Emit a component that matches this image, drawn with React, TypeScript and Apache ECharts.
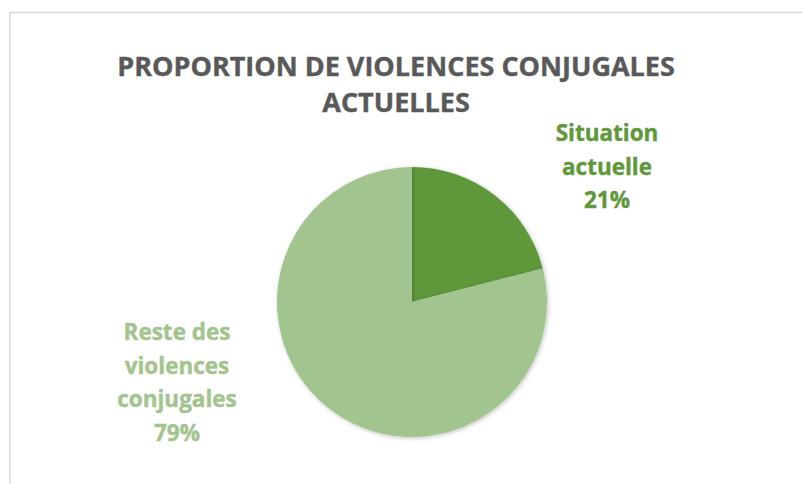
import React, { useEffect, useRef } from "react";
import * as echarts from "echarts";

const titleLines = ["PROPORTION DE VIOLENCES CONJUGALES", "ACTUELLES"];
const categories = ["Situation actuelle", "Reste des violences conjugales"];
const labelLines = [["Situation", "actuelle"], ["Reste des", "violences", "conjugales"]];
const values = [21, 79];
const colors = ["#5f983b", "#a2c48e"];
const labelPos = [
  { x: 607, y: 166 },
  { x: 177, y: 382 },
];

export default function App() {
  const ref = useRef<HTMLDivElement>(null);
  useEffect(() => {
    if (!ref.current) return;
    const chart = echarts.init(ref.current, undefined, { renderer: "svg" });
    const total = values.reduce((a, b) => a + b, 0);
    chart.setOption({
      animation: false,
      backgroundColor: "#ffffff",
      graphic: [
        { type: "line", shape: { x1: 10, y1: 12.5, x2: 802, y2: 12.5 }, style: { stroke: "#d9d9d9", lineWidth: 1.5 } },
        { type: "line", shape: { x1: 10, y1: 12, x2: 10, y2: 484 }, style: { stroke: "#d9d9d9", lineWidth: 1.5 } },
      ],
      title: {
        text: titleLines.join("\n"),
        left: 391,
        top: 42,
        textAlign: "center",
        textStyle: {
          fontFamily: "Open Sans",
          fontWeight: "bold",
          fontSize: 27,
          color: "#595959",
          lineHeight: 36,
          textBorderColor: "#595959",
          textBorderWidth: 0.4,
        },
      },
      series: [
        {
          type: "pie",
          center: [412, 302],
          radius: [0, 135],
          startAngle: 90,
          clockwise: true,
          data: values.map((v, i) => ({
            name: categories[i],
            value: v,
            itemStyle: {
              color: colors[i],
              shadowBlur: 4,
              shadowColor: "rgba(0,0,0,0.25)",
              shadowOffsetX: 1,
              shadowOffsetY: 1,
            },
            label: {
              color: colors[i],
              textBorderColor: colors[i],
              textBorderWidth: 0.4,
              formatter: () => labelLines[i].join("\n") + "\n" + Math.round((v / total) * 100) + "%",
            },
          })),
          label: {
            show: true,
            position: "outside",
            fontFamily: "Open Sans",
            fontWeight: "bold",
            fontSize: 22.5,
            lineHeight: 33.5,
            align: "center",
          },
          labelLine: { show: false },
          labelLayout: (params: any) => {
            const p = labelPos[params.dataIndex];
            return { x: p.x, y: p.y, align: "center", verticalAlign: "middle" };
          },
          emphasis: { disabled: true },
        },
      ],
    });
    return () => chart.dispose();
  }, []);
  return (
    <div
      ref={ref}
      style={{ position: "fixed", left: 0, top: 0, width: 802, height: 484 }}
    />
  );
}
